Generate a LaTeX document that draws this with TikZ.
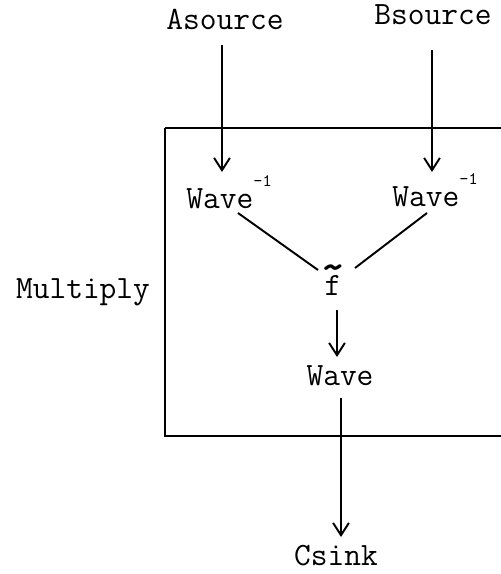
\documentclass[tikz,border=0pt]{standalone}
\usepackage{fontspec}
\usetikzlibrary{arrows.meta, positioning, calc}

\begin{document}
\begin{tikzpicture}[x=0.02cm, y=-0.02cm,
    lbl/.style={font=\fontsize{18.5}{22}\selectfont\ttfamily, inner sep=0pt, anchor=base},
    arr/.style={-{Straight Barb[length=7pt, width=9pt]}, line width=1.1pt},
    ln/.style={line width=1.1pt}]

  \path[use as bounding box] (0,0) rectangle (500,574);

  % sources and sink
  \node[lbl] (asrc) at (225, 30) {Asource};
  \node[lbl] (bsrc) at (433, 25) {Bsource};
  \node[lbl] (csink) at (336, 565) {Csink};

  % the Multiply block
  \node[lbl] (mult) at (83, 298) {Multiply};
  \draw[ln] (165,128) -- (510,128);
  \draw[ln] (165,128) -- (165,436) -- (510,436);

  % inside the block
  \node[lbl, anchor=base west] (winva) at (186, 208) {Wave\raisebox{12pt}{\fontsize{10}{10}\selectfont -1}};
  \node[lbl, anchor=base west] (winvb) at (392, 206) {Wave\raisebox{12pt}{\fontsize{10}{10}\selectfont -1}};
  \node[lbl] (ftil) at (333, 295) {\ooalign{f\cr\hidewidth\raisebox{8pt}{\scalebox{1.5}[1.3]{\bfseries\textasciitilde}}\hidewidth\cr}};
  \node[lbl] (wave) at (340, 385) {Wave};

  % connectors
  \draw[arr] ($(asrc.base)+(-3,15)$) -- ($(winva.base west)+(36,-36)$);
  \draw[arr] ($(bsrc.base)+(-1,25)$) -- ($(winvb.base west)+(40,-34)$);
  \draw[ln] ($(winva.base west)+(52,5)$) -- ($(ftil.base)+(-15,-25)$);
  \draw[ln] ($(winvb.base west)+(35,7)$) -- ($(ftil.base)+(22,-27)$);
  \draw[arr] ($(ftil.base)+(4,15)$) -- ($(wave.base)+(-3,-28)$);
  \draw[arr] ($(wave.base)+(1,13)$) -- ($(csink.base)+(5,-28)$);
\end{tikzpicture}
\end{document}
